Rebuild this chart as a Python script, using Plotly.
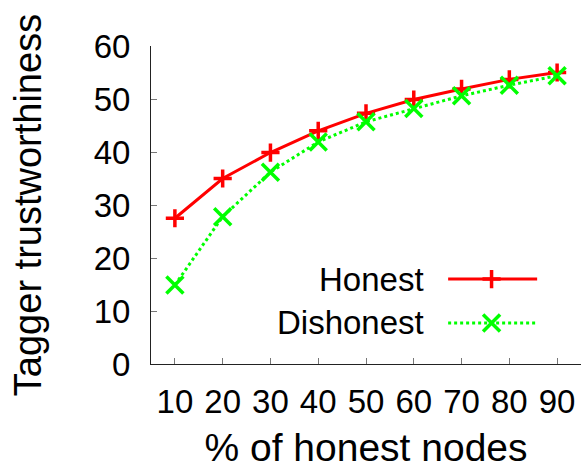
import plotly.graph_objects as go

# Percentage of honest nodes in the network
honest_pct = [10, 20, 30, 40, 50, 60, 70, 80, 90]

# Average tagger trustworthiness per group
honest_trust = [27.5, 35.0, 39.9, 44.0, 47.3, 49.9, 51.9, 53.7, 55.0]
dishonest_trust = [14.9, 27.8, 36.2, 41.9, 45.7, 48.2, 50.6, 52.6, 54.4]

series_names = ["Honest", "Dishonest"]
y_ticks = [0, 10, 20, 30, 40, 50, 60]

FONT = "Liberation Sans, Arial, Helvetica, sans-serif"
RED = "#ff0000"
GREEN = "#00ff00"

fig = go.Figure()

fig.add_trace(go.Scatter(
    x=honest_pct, y=honest_trust, mode="lines+markers", name=series_names[0],
    line=dict(color=RED, width=3),
    marker=dict(symbol="cross-thin", size=13, line=dict(color=RED, width=3.5)),
    showlegend=False,
))
fig.add_trace(go.Scatter(
    x=honest_pct, y=dishonest_trust, mode="lines+markers", name=series_names[1],
    line=dict(color=GREEN, width=3, dash="dot"),
    marker=dict(symbol="x-thin", size=17, line=dict(color=GREEN, width=3.5)),
    showlegend=False,
))

# Legend drawn on an overlay axis in unit coordinates: label on the left, sample on the right
legend_rows = [0.267, 0.129]
sample_x = [0.691, 0.898]
sample_mid = 0.792
styles = [
    (RED, "solid", "cross-thin", 13),
    (GREEN, "dot", "x-thin", 17),
]
for name, row, (col, dash, sym, size) in zip(series_names, legend_rows, styles):
    fig.add_trace(go.Scatter(
        x=sample_x, y=[row, row], xaxis="x2", yaxis="y2", mode="lines",
        line=dict(color=col, width=3, dash=dash), showlegend=False, hoverinfo="skip",
    ))
    fig.add_trace(go.Scatter(
        x=[sample_mid], y=[row], xaxis="x2", yaxis="y2", mode="markers",
        marker=dict(symbol=sym, size=size, line=dict(color=col, width=3.5)),
        showlegend=False, hoverinfo="skip",
    ))
    fig.add_annotation(
        x=0.640, y=row, xref="paper", yref="paper", text=name, showarrow=False,
        xanchor="right", yanchor="middle", font=dict(family=FONT, size=33, color="#000"),
    )

fig.update_layout(
    width=582, height=469,
    margin=dict(l=151, r=1, t=46, b=105, autoexpand=False),
    paper_bgcolor="white", plot_bgcolor="white",
    font=dict(family=FONT, color="#000"),
    xaxis=dict(
        range=[5, 95], tickvals=honest_pct, ticktext=[str(v) for v in honest_pct],
        ticks="inside", ticklen=6, tickwidth=1, tickcolor="#777",
        showline=True, linecolor="#222", linewidth=1, showgrid=False, zeroline=False,
        tickfont=dict(family=FONT, size=33, color="#000"),
        title=dict(text="% of honest nodes", font=dict(family=FONT, size=39, color="#000"), standoff=19),
        ticklabelstandoff=8,
    ),
    yaxis=dict(
        range=[0, 60], tickvals=y_ticks, ticktext=[str(v) for v in y_ticks],
        ticks="inside", ticklen=6, tickwidth=1, tickcolor="#777",
        showline=True, linecolor="#222", linewidth=1, showgrid=False, zeroline=False,
        tickfont=dict(family=FONT, size=33, color="#000"),
        title=dict(text="Tagger trustworthiness", font=dict(family=FONT, size=38, color="#000"), standoff=40),
        ticklabelstandoff=13,
    ),
    xaxis2=dict(range=[0, 1], overlaying="x", visible=False, fixedrange=True),
    yaxis2=dict(range=[0, 1], overlaying="y", visible=False, fixedrange=True),
)

fig.write_html("out.html")
